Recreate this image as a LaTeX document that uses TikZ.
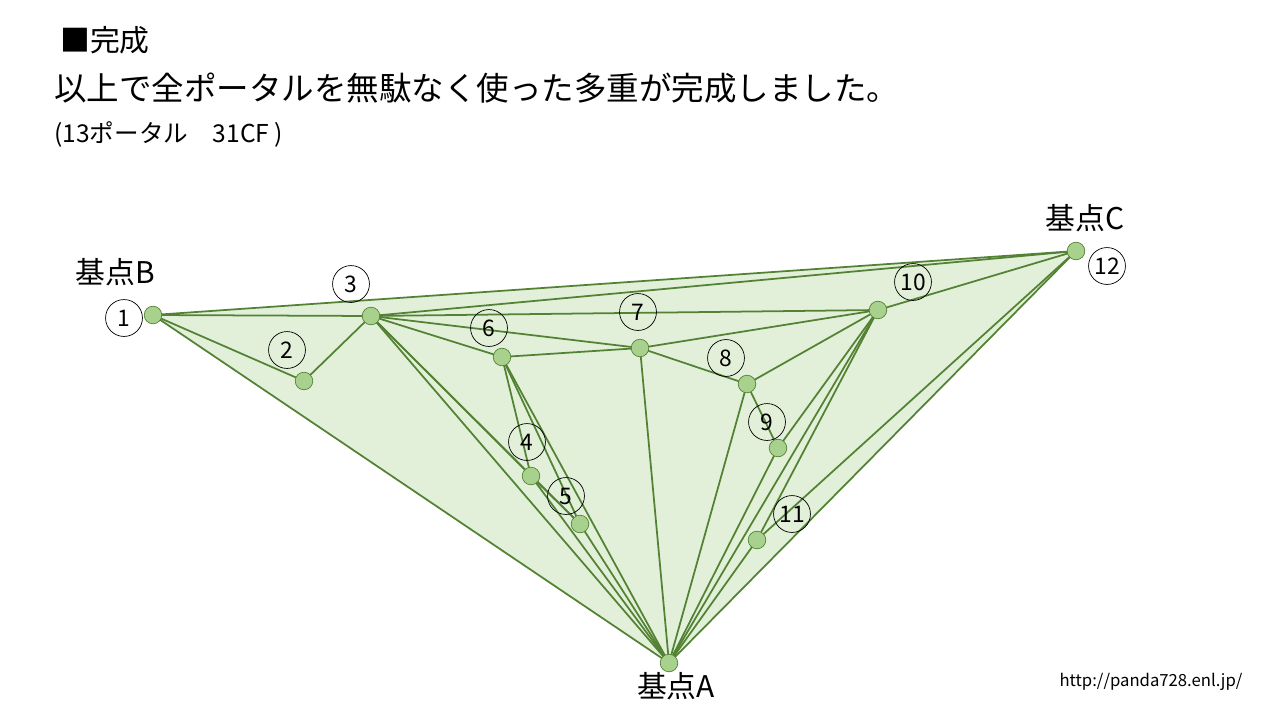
\documentclass[tikz,border=0pt]{standalone}
\usepackage{fontspec}
\setmainfont{Noto Sans CJK JP}
\definecolor{ln}{HTML}{548235}
\definecolor{pt}{HTML}{A9D18E}
\definecolor{fl}{HTML}{E2F0D9}
\begin{document}
\begin{tikzpicture}[x=0.02cm,y=-0.02cm,
 e/.style={draw=ln,line width=1pt},
 p/.style={circle,fill=pt,draw=ln,line width=0.4pt,minimum size=10pt,inner sep=0pt},
 lab/.style={circle,draw=black,line width=0.4pt,minimum size=21pt,inner sep=0pt,font=\fontsize{13}{13}\selectfont},
 big/.style={font=\fontsize{17}{17}\selectfont}]
\useasboundingbox (0,0) rectangle (1280,720);
\fill[fl] (153,315) -- (1076,251) -- (669,663) -- cycle;
\coordinate (A) at (669,663);
\coordinate (B) at (153,315);
\coordinate (C) at (1076,251);
\coordinate (p2) at (304,381);
\coordinate (p3) at (371,316);
\coordinate (p4) at (531,476);
\coordinate (p5) at (580,524);
\coordinate (p6) at (502,357);
\coordinate (p7) at (640,348);
\coordinate (p8) at (747,384);
\coordinate (p9) at (778,448);
\coordinate (p10) at (878,310);
\coordinate (p11) at (757,540);
\foreach \a/\b in {B/C,B/p3,B/p2,B/A,p2/p3,p3/C,p3/p10,p3/p7,p3/p6,p3/p4,p3/p5,p3/A,
 p6/p7,p6/p4,p6/p5,p6/A,p4/p5,p4/A,p5/A,p7/p10,p7/p8,p7/A,p8/p10,p8/p9,p8/A,p9/p10,p9/A,
 p10/C,p10/A,p10/p11,p11/C,p11/A,C/A}
 \draw[e] (\a) -- (\b);
\foreach \n in {A,B,C,p2,p3,p4,p5,p6,p7,p8,p9,p10,p11}
 \node[p] (n\n) at (\n) {};
\node[lab] (l1) at (124,318) {1};
\node[lab] (l2) at (287,350) {2};
\node[lab] (l3) at (351,284) {3};
\node[lab] (l4) at (527,442) {4};
\node[lab] (l5) at (566,496) {5};
\node[lab] (l6) at (489,328) {6};
\node[lab] (l7) at (638,312) {7};
\node[lab] (l8) at (726,358) {8};
\node[lab] (l9) at (767,422) {9};
\node[lab] (l10) at (913,282) {10};
\node[lab] (l11) at (792,514) {11};
\node[lab] (l12) at (1107,266) {12};
\node[big] (tB) at (115,272) {基点B};
\node[big] (tC) at (1085,218) {基点C};
\node[big] (tA) at (676,686) {基点A};
\node[big,anchor=west] (t1) at (54,40) {■完成};
\node[font=\fontsize{18.5}{18.5}\selectfont,anchor=west] (t2) at (48,88) {以上で全ポータルを無駄なく使った多重が完成しました。};
\node[font=\fontsize{14}{14}\selectfont,anchor=west] (t3) at (48,134) {(13ポータル\quad 31CF )};
\node[font=\fontsize{9.5}{9.5}\selectfont] (url) at (1151,682) {http://panda728.enl.jp/};
\end{tikzpicture}
\end{document}
